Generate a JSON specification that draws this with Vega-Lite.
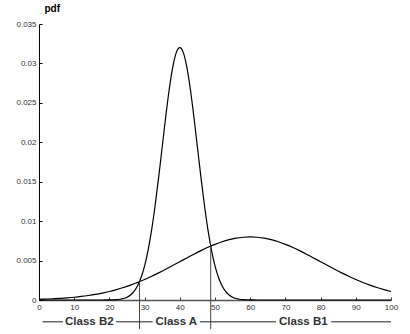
{
  "$schema": "https://vega.github.io/schema/vega-lite/v6.json",
  "autosize": "none",
  "width": 352,
  "height": 276,
  "padding": {"left": 39, "top": 24, "right": 19, "bottom": 34},
  "background": "white",
  "config": {"view": {"stroke": null}, "font": "Liberation Sans",
    "axis": {"labelOverlap": false, "grid": false, "labelFontSize": 8, "labelColor": "#333", "tickSize": -3, "labelPadding": 6, "tickCount": 30}},
  "datasets": {
    "broad": [
      {"x": 0, "pdf": 0.0000889}, {"x": 2, "pdf": 0.0001194}, {"x": 4, "pdf": 0.0001587}, {"x": 6, "pdf": 0.000209},
      {"x": 8, "pdf": 0.0002724}, {"x": 10, "pdf": 0.0003515}, {"x": 12, "pdf": 0.000449}, {"x": 14, "pdf": 0.000568},
      {"x": 16, "pdf": 0.000711}, {"x": 18, "pdf": 0.000882}, {"x": 20, "pdf": 0.001083}, {"x": 22, "pdf": 0.001316},
      {"x": 24, "pdf": 0.001583}, {"x": 26, "pdf": 0.001886}, {"x": 28, "pdf": 0.002224}, {"x": 30, "pdf": 0.002597},
      {"x": 32, "pdf": 0.003002}, {"x": 34, "pdf": 0.003436}, {"x": 36, "pdf": 0.003894}, {"x": 38, "pdf": 0.004369},
      {"x": 40, "pdf": 0.004852}, {"x": 42, "pdf": 0.005336}, {"x": 44, "pdf": 0.005809}, {"x": 46, "pdf": 0.006262},
      {"x": 48, "pdf": 0.006682}, {"x": 50, "pdf": 0.00706}, {"x": 52, "pdf": 0.007385}, {"x": 54, "pdf": 0.007648},
      {"x": 56, "pdf": 0.007842}, {"x": 58, "pdf": 0.00796}, {"x": 60, "pdf": 0.008}, {"x": 62, "pdf": 0.00796},
      {"x": 64, "pdf": 0.007842}, {"x": 66, "pdf": 0.007648}, {"x": 68, "pdf": 0.007385}, {"x": 70, "pdf": 0.00706},
      {"x": 72, "pdf": 0.006682}, {"x": 74, "pdf": 0.006262}, {"x": 76, "pdf": 0.005809}, {"x": 78, "pdf": 0.005336},
      {"x": 80, "pdf": 0.004852}, {"x": 82, "pdf": 0.004369}, {"x": 84, "pdf": 0.003894}, {"x": 86, "pdf": 0.003436},
      {"x": 88, "pdf": 0.003002}, {"x": 90, "pdf": 0.002597}, {"x": 92, "pdf": 0.002224}, {"x": 94, "pdf": 0.001886},
      {"x": 96, "pdf": 0.001583}, {"x": 98, "pdf": 0.001316}, {"x": 100, "pdf": 0.001083}
    ],
    "narrow": [
      {"x": 0, "pdf": 0}, {"x": 18, "pdf": 0.000003}, {"x": 20, "pdf": 0.0000107}, {"x": 22, "pdf": 0.0000491},
      {"x": 23, "pdf": 0.0000989}, {"x": 24, "pdf": 0.000191}, {"x": 25, "pdf": 0.000355}, {"x": 26, "pdf": 0.000635},
      {"x": 27, "pdf": 0.00109}, {"x": 28, "pdf": 0.001796}, {"x": 29, "pdf": 0.002846}, {"x": 30, "pdf": 0.004331},
      {"x": 31, "pdf": 0.006333}, {"x": 32, "pdf": 0.008897}, {"x": 33, "pdf": 0.01201}, {"x": 34, "pdf": 0.015576},
      {"x": 35, "pdf": 0.019409}, {"x": 36, "pdf": 0.023237}, {"x": 37, "pdf": 0.026729}, {"x": 38, "pdf": 0.02954},
      {"x": 39, "pdf": 0.031366}, {"x": 40, "pdf": 0.032}, {"x": 41, "pdf": 0.031366}, {"x": 42, "pdf": 0.02954},
      {"x": 43, "pdf": 0.026729}, {"x": 44, "pdf": 0.023237}, {"x": 45, "pdf": 0.019409}, {"x": 46, "pdf": 0.015576},
      {"x": 47, "pdf": 0.01201}, {"x": 48, "pdf": 0.008897}, {"x": 49, "pdf": 0.006333}, {"x": 50, "pdf": 0.004331},
      {"x": 51, "pdf": 0.002846}, {"x": 52, "pdf": 0.001796}, {"x": 53, "pdf": 0.00109}, {"x": 54, "pdf": 0.000635},
      {"x": 55, "pdf": 0.000355}, {"x": 56, "pdf": 0.000191}, {"x": 57, "pdf": 0.0000989}, {"x": 58, "pdf": 0.0000491},
      {"x": 60, "pdf": 0.0000107}, {"x": 62, "pdf": 0.000003}, {"x": 100, "pdf": 0}
    ],
    "bounds": [
      {"x": 28.55, "pdf": 0.00232},
      {"x": 48.78, "pdf": 0.00683}
    ],
    "segments": [
      {"x": 1, "x2": 6.8}, {"x": 21.9, "x2": 32.3}, {"x": 45.7, "x2": 67.3}, {"x": 83.0, "x2": 100}
    ],
    "classes": [
      {"label": "Class B2", "x": 14.3},
      {"label": "Class A", "x": 39.0},
      {"label": "Class B1", "x": 75.1}
    ]
  },
  "layer": [
    {
      "data": {"name": "broad"},
      "mark": {"type": "line", "color": "black", "strokeWidth": 1.2, "interpolate": "monotone"},
      "encoding": {
        "x": {"field": "x", "type": "quantitative",
          "scale": {"domain": [0, 100], "nice": false},
          "axis": {"title": null, "values": [0,10,20,30,40,50,60,70,80,90,100], "tickCount": 30,
            "domainColor": "#555", "domainWidth": 1.5, "tickColor": "#333", "labelFlush": false}},
        "y": {"field": "pdf", "type": "quantitative",
          "scale": {"domain": [0, 0.035], "nice": false},
          "axis": {"title": "pdf", "titleAngle": 0, "titleAlign": "left", "titleBaseline": "alphabetic",
            "titleX": 5, "titleY": -12.5, "titleFontSize": 10, "titleFontWeight": "bold", "titleColor": "black",
            "values": [0, 0.005, 0.01, 0.015, 0.02, 0.025, 0.03, 0.035], "format": "~g", "tickCount": 30,
            "domainColor": "black", "tickColor": "black"}}
      }
    },
    {
      "data": {"name": "narrow"},
      "mark": {"type": "line", "color": "black", "strokeWidth": 1.2, "interpolate": "monotone"},
      "encoding": {
        "x": {"field": "x", "type": "quantitative"},
        "y": {"field": "pdf", "type": "quantitative"}
      }
    },
    {
      "data": {"name": "bounds"},
      "mark": {"type": "rule", "color": "#444", "strokeWidth": 1},
      "encoding": {
        "x": {"field": "x", "type": "quantitative"},
        "y": {"field": "pdf", "type": "quantitative"},
        "y2": {"datum": -0.0037}
      }
    },
    {
      "data": {"name": "segments"},
      "mark": {"type": "rule", "color": "#222", "strokeWidth": 1},
      "encoding": {
        "x": {"field": "x", "type": "quantitative"},
        "x2": {"field": "x2"},
        "y": {"datum": -0.00277}
      }
    },
    {
      "data": {"name": "classes"},
      "mark": {"type": "text", "fontSize": 11.5, "fontWeight": "bold", "color": "#333", "baseline": "middle", "align": "center"},
      "encoding": {
        "x": {"field": "x", "type": "quantitative"},
        "y": {"datum": -0.00277},
        "text": {"field": "label"}
      }
    }
  ]
}
